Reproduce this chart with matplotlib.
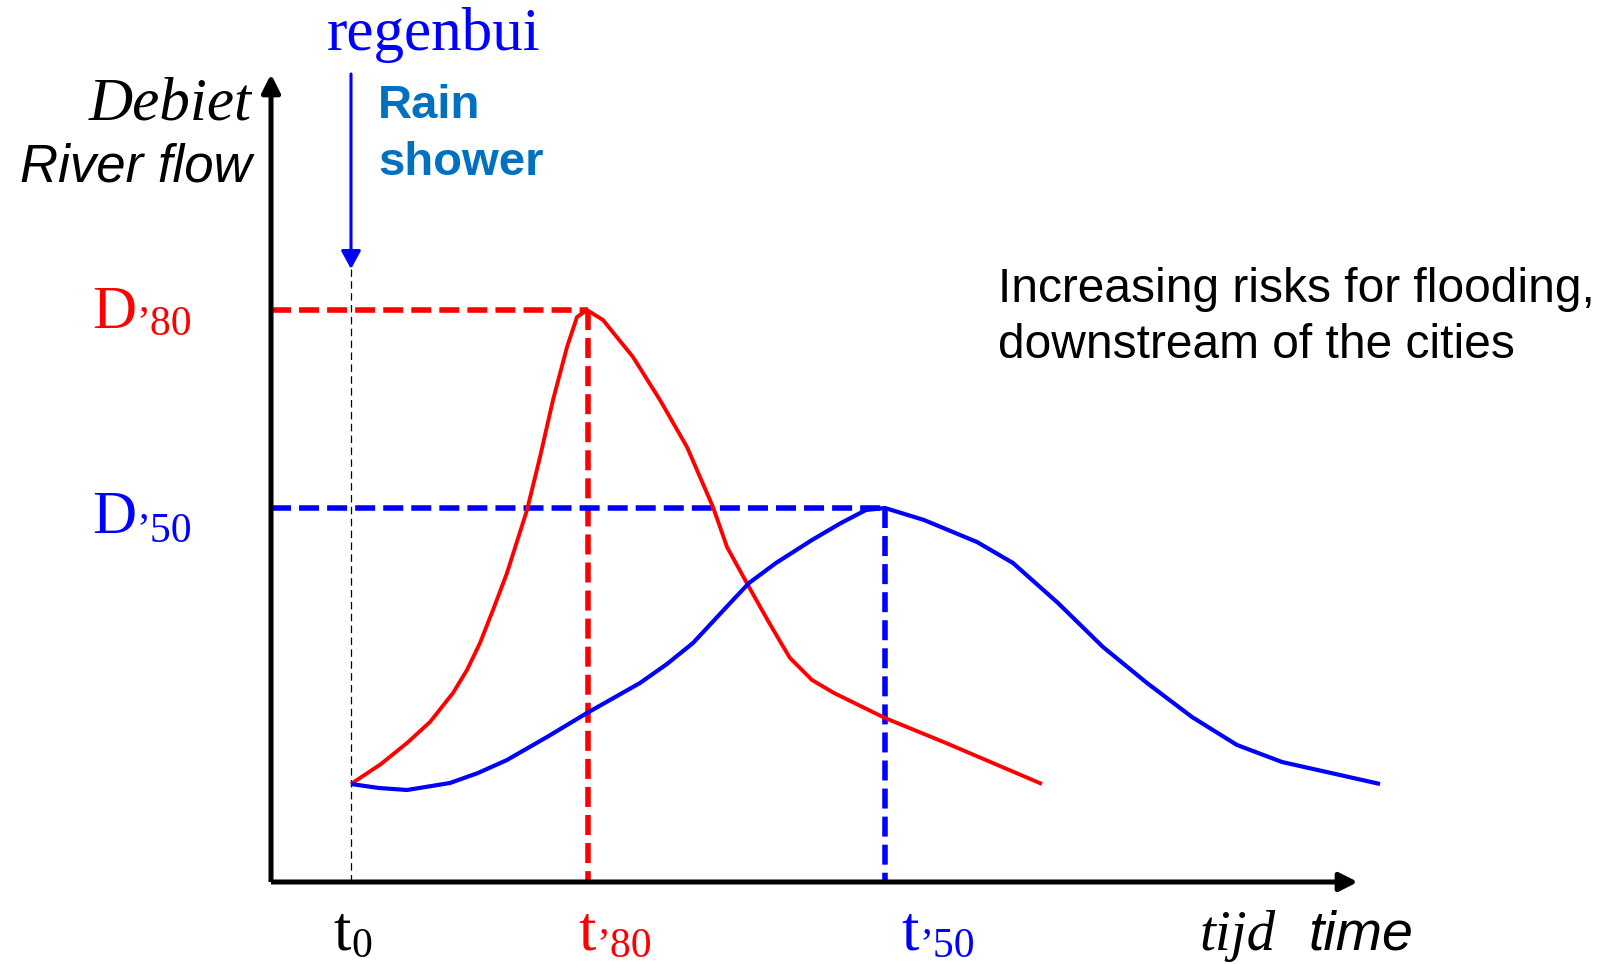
import matplotlib
matplotlib.use("Agg")
import matplotlib.pyplot as plt
from matplotlib.patches import FancyArrowPatch

# ---------------- data (time units, flow units) ----------------
red_time = [8.0, 11.0, 13.6, 15.9, 18.2, 19.6, 20.9, 22.2, 23.6, 25.6, 26.9, 28.2, 29.6, 30.6, 31.6,
            33.2, 36.2, 38.9, 41.6, 44.2, 45.6, 47.8, 49.6, 51.0, 51.9, 54.1, 56.3, 61.4, 67.5, 77.1]
red_flow = [9.8, 11.8, 13.9, 16.0, 18.9, 21.2, 23.9, 27.2, 30.9, 37.2, 42.5, 48.2, 53.5, 56.5, 57.2,
            56.2, 52.5, 48.2, 43.5, 37.5, 33.5, 29.5, 26.3, 23.9, 22.4, 20.2, 18.9, 16.4, 13.9, 9.8]

blue_time = [8.0, 10.8, 13.6, 17.9, 20.7, 23.6, 27.6, 31.6, 36.9, 39.6, 42.2, 46.2, 47.8, 50.5, 54.1,
             57.0, 59.5, 61.4, 65.3, 70.6, 74.2, 78.7, 83.2, 87.6, 92.1, 96.6, 101.1, 106.0, 110.9]
blue_flow = [9.8, 9.4, 9.2, 9.9, 10.9, 12.2, 14.5, 16.9, 19.9, 21.8, 23.9, 28.2, 29.9, 31.9, 34.2,
             35.9, 37.2, 37.4, 36.2, 34.0, 31.9, 27.9, 23.5, 19.9, 16.5, 13.7, 12.0, 10.9, 9.8]

t0 = 8.0
t80 = 31.7
t50 = 61.4
D80 = 57.2
D50 = 37.4
axis_top = 80.8
axis_right = 108.7
rain_tip = 61.3

RED = "#FF0000"
BLUE = "#0000FF"
RAINBLUE = "#0070C0"
SERIF = "Liberation Serif"
SANS = "Liberation Sans"

fig = plt.figure(figsize=(16.04, 9.64), dpi=100)
ax = fig.add_axes([0, 0, 1, 1])
ax.set_xlim(-27.1, 133.3)
ax.set_ylim(-8.2, 88.2)
ax.axis("off")

# axes with arrows
for (x0, y0, x1, y1) in [(0, 0, 0, axis_top), (0, 0, axis_right, 0)]:
    arr = FancyArrowPatch((x0, y0), (x1, y1), arrowstyle="-|>,head_length=11,head_width=5.5",
                          mutation_scale=1, lw=3.6, color="black", shrinkA=0, shrinkB=0,
                          capstyle="butt", zorder=5)
    ax.add_patch(arr)

# t0 thin dashed line
ax.plot([t0, t0], [0, rain_tip], color="black", lw=0.9, dashes=(6, 3.5), zorder=2)

# rain arrow
rain = FancyArrowPatch((t0, axis_top), (t0, rain_tip), arrowstyle="-|>,head_length=11,head_width=6",
                       mutation_scale=1, lw=2.2, color=BLUE, shrinkA=0, shrinkB=0, zorder=4)
ax.add_patch(rain)

# dashed guide lines
dash = (3.6, 1.45)
ax.plot([0, t80], [D80, D80], color=RED, lw=4, dashes=dash, zorder=3)
ax.plot([t80, t80], [D80, 0], color=RED, lw=4, dashes=dash, zorder=3)
ax.plot([0, t50], [D50, D50], color=BLUE, lw=4, dashes=dash, zorder=3)
ax.plot([t50, t50], [D50, 0], color=BLUE, lw=4, dashes=dash, zorder=3)

# hydrographs
ax.plot(red_time, red_flow, color=RED, lw=2.8, solid_joinstyle="round", solid_capstyle="butt", zorder=4)
ax.plot(blue_time, blue_flow, color=BLUE, lw=3.0, solid_joinstyle="round", solid_capstyle="butt", zorder=4)

# ---------------- texts ----------------
ax.text(16.3, 83.2, "regenbui", family=SERIF, fontsize=44, color=BLUE, ha="center", va="baseline")
ax.text(10.7, 76.4, "Rain", family=SANS, fontsize=34, fontweight="bold", color=RAINBLUE, ha="left", va="baseline")
ax.text(10.7, 70.7, "shower", family=SANS, fontsize=34, fontweight="bold", color=RAINBLUE, ha="left", va="baseline")
ax.text(-1.9, 76.2, "Debiet", family=SERIF, style="italic", fontsize=44, color="black", ha="right", va="baseline")
ax.text(-1.9, 70.0, "River flow", family=SANS, style="italic", fontsize=38, color="black", ha="right", va="baseline")

# D'80, D'50
ax.text(-17.9, 55.4, "D", family=SERIF, fontsize=44, color=RED, ha="left", va="baseline")
ax.text(-13.5, 54.7, "\u201980", family=SERIF, fontsize=30, color=RED, ha="left", va="baseline")
ax.text(-17.9, 34.9, "D", family=SERIF, fontsize=44, color=BLUE, ha="left", va="baseline")
ax.text(-13.5, 34.0, "\u201950", family=SERIF, fontsize=30, color=BLUE, ha="left", va="baseline")

# time labels
ax.text(6.2, -6.8, "t", family=SERIF, fontsize=45, color="black", ha="left", va="baseline")
ax.text(8.0, -7.5, "0", family=SERIF, fontsize=30, color="black", ha="left", va="baseline")
ax.text(30.7, -6.8, "t", family=SERIF, fontsize=45, color=RED, ha="left", va="baseline")
ax.text(32.5, -7.5, "\u201980", family=SERIF, fontsize=30, color=RED, ha="left", va="baseline")
ax.text(63.0, -6.8, "t", family=SERIF, fontsize=45, color=BLUE, ha="left", va="baseline")
ax.text(64.8, -7.5, "\u201950", family=SERIF, fontsize=30, color=BLUE, ha="left", va="baseline")
ax.text(92.9, -6.8, "tijd", family=SERIF, style="italic", fontsize=41, color="black", ha="left", va="baseline")
ax.text(103.7, -6.8, "time", family=SANS, style="italic", fontsize=40, color="black", ha="left", va="baseline")

# annotation
ax.text(72.7, 58.0, "Increasing risks for flooding,", family=SANS, fontsize=34.5, color="black", ha="left", va="baseline")
ax.text(72.7, 52.4, "downstream of the cities", family=SANS, fontsize=34.5, color="black", ha="left", va="baseline")

fig.savefig("out.png", dpi=100)
